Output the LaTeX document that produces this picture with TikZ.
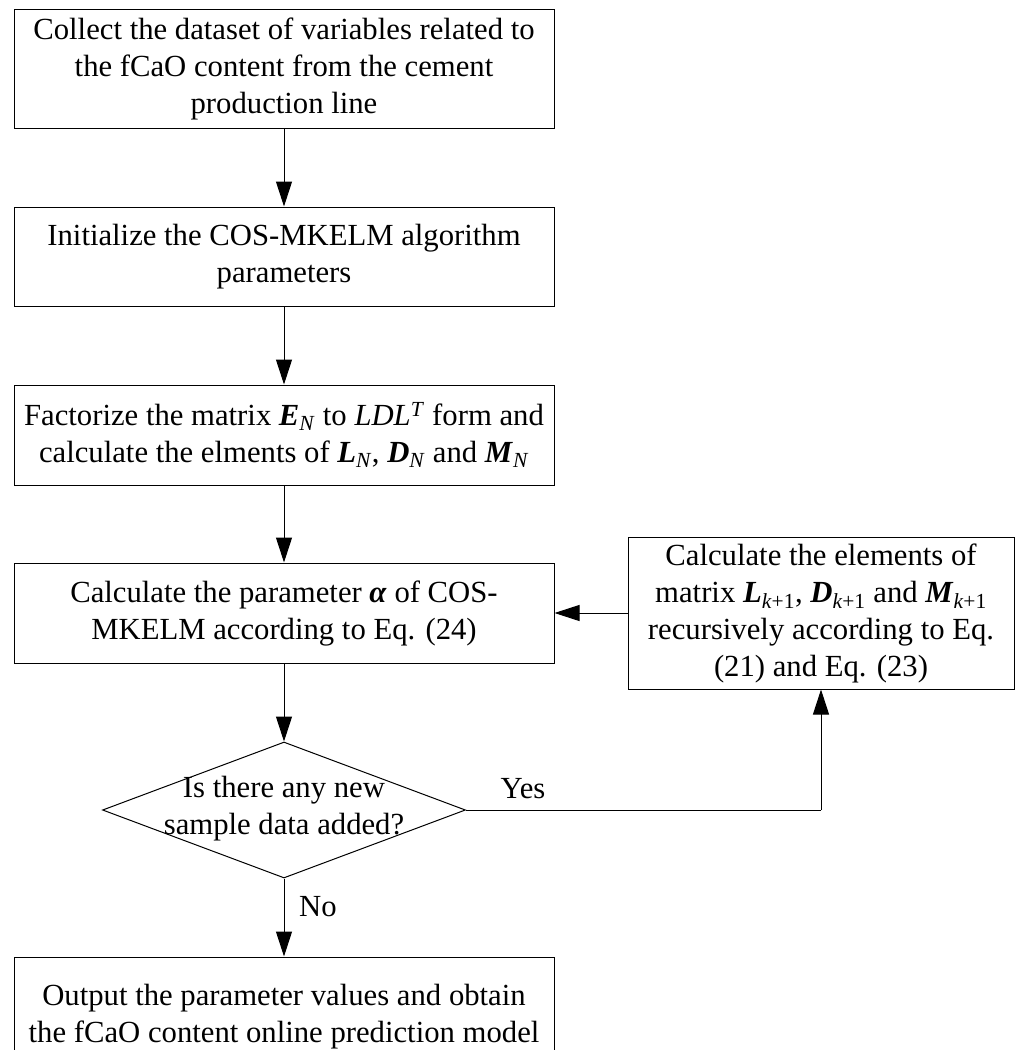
\documentclass[tikz,border=0pt]{standalone}
\usepackage{fontspec}
\setmainfont{Liberation Serif}
\usetikzlibrary{arrows.meta,shapes.geometric}
\newcommand{\bvec}[2]{\textbf{\textit{#1}}\textsubscript{\textit{#2}}}
\newcommand{\bkp}[1]{\textbf{\textit{#1}}\textsubscript{\textit{k}+1}}
\begin{document}
\begin{tikzpicture}[x=1pt,y=-1pt,
  box/.style={draw, line width=1pt, rectangle, minimum width=540pt, align=center, inner sep=0pt, font=\fontsize{30.7}{37}\selectfont},
  dia/.style={draw, line width=1pt, diamond, minimum width=363pt, minimum height=136pt, inner sep=0pt},
  txt/.style={align=center, inner sep=0pt, font=\fontsize{30.7}{37}\selectfont},
  arr/.style={line width=1pt, -{Triangle[length=25pt,width=16pt]}},
  ln/.style={line width=1pt}]
\clip (0,0) rectangle (1015,1050);
\node[box, minimum height=119pt] (b1) at (284,68.5) {Collect the dataset of variables related to\\the fCaO content from the cement\\production line};
\node[box, minimum height=99pt] (b2) at (284,256.5) {Initialize the COS-MKELM algorithm\\parameters};
\node[box, minimum height=100pt] (b3) at (284,435) {Factorize the matrix \bvec{E}{N} to \textit{LDL}\textsuperscript{\textit{T}} form and\\calculate the elments of \bvec{L}{N}, \bvec{D}{N} and \bvec{M}{N}};
\node[box, minimum height=100pt] (b4) at (284,613) {Calculate the parameter \textbf{\textit{α}} of COS-\\MKELM according to Eq. (24)};
\node[box, minimum width=386pt, minimum height=152pt] (r) at (821,613) {Calculate the elements of\\matrix \bkp{L}, \bkp{D} and \bkp{M}\\recursively according to Eq.\\(21) and Eq. (23)};
\node[dia] (d) at (284,810) {};
\node[txt] (dt) at (284,809) {Is there any new\\sample data added?};
\node[box, minimum height=120pt] (b5) at (284,1017) {Output the parameter values and obtain\\the fCaO content online prediction model};
\coordinate (yc) at (821,810);
\node[txt] (yes) at (523,789) {Yes};
\node[txt] (no) at (318,907) {No};
\draw[arr] (b1) -- (b2);
\draw[arr] (b2) -- (b3);
\draw[arr] (b3) -- (b4);
\draw[arr] (b4) -- (d.north);
\draw[arr] (d.south) -- (b5);
\draw[ln] (d.east) -- (yc);
\draw[arr] (yc) -- (r.south);
\draw[arr] (r.west) -- (b4.east);
\end{tikzpicture}
\end{document}
